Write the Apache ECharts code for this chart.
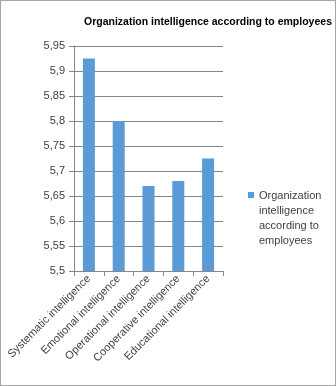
<!DOCTYPE html>
<html>
<head>
<meta charset="UTF-8">
<title>Organization intelligence</title>
<script src="https://cdn.jsdelivr.net/npm/echarts@6/dist/echarts.min.js"></script>
<style>
html, body { margin: 0; padding: 0; background: #fff; }
#chart { width: 334px; height: 384px; border: 1px solid #a6a6a6; }
</style>
</head>
<body>
<div id="chart"></div>
<script>
var categories = ['Systematic intelligence', 'Emotional intelligence', 'Operational intelligence',
	'Cooperative intelligence', 'Educational intelligence'];
var values = [5.925, 5.80, 5.67, 5.68, 5.725];
var seriesName = 'Organization intelligence according to employees';
var legendLabel = 'Organization\nintelligence\naccording to\nemployees';

var font = 'Liberation Sans';
// square marker at top of a tall (mostly empty) icon box, so it lines up with the first text line
var legendIcon = 'path://M0,0L0.01,0L0.01,0.01Z M0,3L6,3L6,9L0,9Z M0,58L0.01,58L0.01,58.01Z';

var myChart = echarts.init(document.getElementById('chart'));
myChart.setOption({
	animation: false,
	title: {
		text: seriesName,
		left: 78,
		top: 11,
		textStyle: { fontFamily: font, fontSize: 10.5, fontWeight: 'bold', color: '#000' }
	},
	legend: {
		left: 247,
		top: 187,
		padding: 0,
		orient: 'vertical',
		itemWidth: 6,
		itemHeight: 58,
		icon: legendIcon,
		formatter: function(){ return legendLabel; },
		textStyle: { fontFamily: font, fontSize: 11, color: '#404040', lineHeight: 15 }
	},
	grid: { left: 73, right: 112, top: 45, bottom: 114 },
	xAxis: {
		type: 'category',
		data: categories,
		axisLine: { lineStyle: { color: '#868686' } },
		axisTick: { show: true, length: 5, lineStyle: { color: '#868686' } },
		axisLabel: { interval: 0, rotate: 45, margin: 6, fontFamily: font, fontSize: 11, color: '#404040' }
	},
	yAxis: {
		type: 'value',
		min: 5.5,
		max: 5.95,
		interval: 0.05,
		axisLine: { show: true, lineStyle: { color: '#868686' } },
		axisTick: { show: true, length: 5, lineStyle: { color: '#868686' } },
		splitLine: { lineStyle: { color: '#868686' } },
		axisLabel: {
			margin: 9, fontFamily: font, fontSize: 11, color: '#404040',
			formatter: function(v){ return (+v.toFixed(2)).toString().replace('.', ','); }
		}
	},
	series: [{
		name: seriesName,
		type: 'bar',
		data: values,
		barWidth: 12,
		itemStyle: { color: '#5b9bd5' }
	}]
});
</script>
</body>
</html>
